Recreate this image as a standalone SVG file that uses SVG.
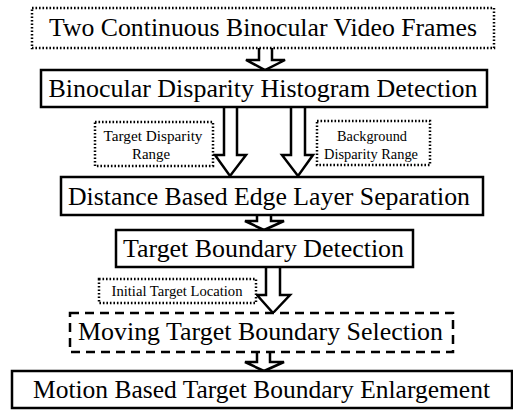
<svg xmlns="http://www.w3.org/2000/svg" width="513" height="410" viewBox="0 0 513 410">
  <style>
    .box { fill: #fff; stroke: #000; stroke-width: 2.5; }
    .dotted { fill: #fff; stroke: #000; stroke-width: 2.5; stroke-dasharray: 1.6 1.9; }
    .dashed { fill: #fff; stroke: #000; stroke-width: 2.5; stroke-dasharray: 9 6; }
    .arrow { fill: #fff; stroke: #000; stroke-width: 2.5; stroke-linejoin: miter; }
    .big { font-size: 25px; fill: #000; text-anchor: middle; }
    .small { font-size: 14px; fill: #000; text-anchor: middle; }
  </style>

  <!-- connectors: hollow block arrows -->
  <g id="connectors">
    <path class="arrow" d="M259,48 V60 H246 L265,70 L285,60 H272 V48"/>
    <path class="arrow" d="M224,107 V155 H215 L230,176 L246,155 H237 V107"/>
    <path class="arrow" d="M291,107 V155 H282 L298,176 L313,155 H305 V107"/>
    <path class="arrow" d="M257,215 V221 H245 L264,230 L284,221 H271 V215"/>
    <path class="arrow" d="M266,267 V295 H257 L273,313 L290,295 H280 V267"/>
    <path class="arrow" d="M257,352 V362 H245 L264,371 L284,362 H270 V352"/>
  </g>

  <g font-family="Liberation Serif, DejaVu Serif, serif">
    <g id="frames">
      <rect class="dotted" x="32" y="8" width="462" height="40"/>
      <text class="big" x="263" y="36" textLength="428" lengthAdjust="spacingAndGlyphs">Two Continuous Binocular Video Frames</text>
    </g>

    <g id="histogram">
      <rect class="box" x="41" y="70" width="446" height="37"/>
      <text class="big" x="263" y="97" textLength="429" lengthAdjust="spacingAndGlyphs">Binocular Disparity Histogram Detection</text>
    </g>

    <g id="target-range">
      <rect class="dotted" x="95" y="122" width="118" height="44"/>
      <text class="small" x="153" y="141" textLength="99" lengthAdjust="spacingAndGlyphs">Target Disparity</text>
      <text class="small" x="151" y="159" textLength="38" lengthAdjust="spacingAndGlyphs">Range</text>
    </g>

    <g id="background-range">
      <rect class="dotted" x="317" y="121" width="113" height="44"/>
      <text class="small" x="372" y="141" textLength="70" lengthAdjust="spacingAndGlyphs">Background</text>
      <text class="small" x="371" y="159" textLength="94" lengthAdjust="spacingAndGlyphs">Disparity Range</text>
    </g>

    <g id="layer-separation">
      <rect class="box" x="61" y="177" width="422" height="38"/>
      <text class="big" x="269" y="205" textLength="402" lengthAdjust="spacingAndGlyphs">Distance Based Edge Layer Separation</text>
    </g>

    <g id="boundary-detection">
      <rect class="box" x="116" y="230" width="297" height="37"/>
      <text class="big" x="263.5" y="257" textLength="281" lengthAdjust="spacingAndGlyphs">Target Boundary Detection</text>
    </g>

    <g id="initial-location">
      <rect class="dotted" x="99" y="279" width="157" height="24"/>
      <text class="small" x="177" y="296" textLength="131" lengthAdjust="spacingAndGlyphs">Initial Target Location</text>
    </g>

    <g id="boundary-selection">
      <rect class="dashed" x="70" y="313" width="383" height="39"/>
      <text class="big" x="260.5" y="340" textLength="365" lengthAdjust="spacingAndGlyphs">Moving Target Boundary Selection</text>
    </g>

    <g id="boundary-enlargement">
      <rect class="box" x="12" y="371" width="500" height="37"/>
      <text class="big" x="261.5" y="398" textLength="457" lengthAdjust="spacingAndGlyphs">Motion Based Target Boundary Enlargement</text>
    </g>
  </g>
</svg>
